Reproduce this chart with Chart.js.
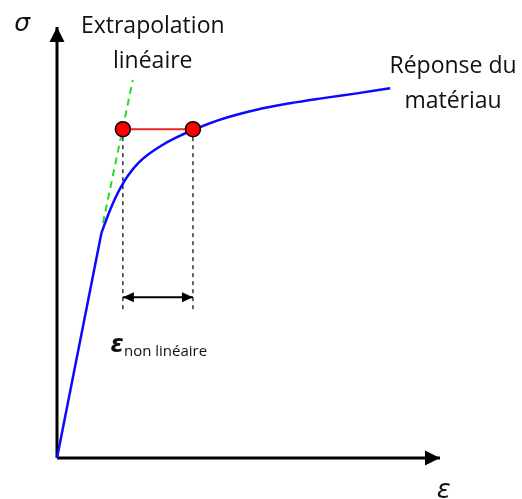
<!DOCTYPE html>
<html>
<head>
<meta charset="utf-8">
<script src="https://cdn.jsdelivr.net/npm/chart.js@4"></script>
<style>
    html, body { margin: 0; padding: 0; background: #ffffff; }
    canvas { display: block; }
</style>
</head>
<body>
<canvas id="stressChart" width="522" height="499"></canvas>
<script>
// Material response (strain, stress) - elastic part then hardening curve
const elasticX = [0, 1.16];
const elasticY = [0, 5.22];
const curveX = [1.16, 1.34, 1.51, 1.69, 1.86, 2.12, 2.38, 2.73, 3.08, 3.55, 4.33, 5.21, 6.08, 6.95, 7.83, 8.70];
const curveY = [5.22, 5.65, 6.01, 6.32, 6.56, 6.84, 7.04, 7.25, 7.42, 7.61, 7.87, 8.08, 8.23, 8.35, 8.46, 8.58];

// Linear extrapolation (green dashed)
const extrapX = [1.20, 1.98];
const extrapY = [5.45, 8.77];

// Red markers at the same stress level
const markerX = [1.72, 3.55];
const markerY = [7.63, 7.63];

// Dashed projection lines and the non-linear strain arrow
const projBottom = 3.36;
const arrowY = 3.73;

// Axes extents
const xMax = 10;
const yMax = 10;

// Text labels (data coordinates)
const labels = [
    { text: 'σ', x: -0.91, y: 9.91, font: 'italic 25px "DejaVu Sans"' },
    { text: 'Extrapolation', x: 2.50, y: 9.86, font: '23px "Open Sans"' },
    { text: 'linéaire', x: 2.50, y: 9.05, font: '23px "Open Sans"' },
    { text: 'Réponse du', x: 10.34, y: 8.93, font: '23px "Open Sans"' },
    { text: 'matériau', x: 10.34, y: 8.12, font: '23px "Open Sans"' },
    { text: 'ε', x: 10.10, y: -0.92, font: 'italic 26px "DejaVu Sans"' }
];

function toPoints(xs, ys) {
    return xs.map((x, i) => ({ x: x, y: ys[i] }));
}

// Draws filled arrowheads at the ends of datasets flagged with arrowEnds
const arrowPlugin = {
    id: 'arrowHeads',
    afterDatasetsDraw(chart) {
        const ctx = chart.ctx;
        chart.data.datasets.forEach((ds, i) => {
            if (!ds.arrowEnds) return;
            const meta = chart.getDatasetMeta(i);
            const pts = meta.data;
            const len = ds.arrowLen || 14;
            const half = ds.arrowHalf || 7;
            const ends = [];
            if (ds.arrowEnds.includes('end')) ends.push([pts[pts.length - 1], pts[pts.length - 2]]);
            if (ds.arrowEnds.includes('start')) ends.push([pts[0], pts[1]]);
            ends.forEach(([tip, from]) => {
                const ang = Math.atan2(tip.y - from.y, tip.x - from.x);
                ctx.save();
                ctx.translate(tip.x, tip.y);
                ctx.rotate(ang);
                ctx.beginPath();
                ctx.moveTo(0, 0);
                ctx.lineTo(-len, -half);
                ctx.lineTo(-len, half);
                ctx.closePath();
                ctx.fillStyle = ds.borderColor;
                ctx.fill();
                ctx.restore();
            });
        });
    }
};

// Writes the text annotations
const labelPlugin = {
    id: 'textLabels',
    afterDraw(chart) {
        const ctx = chart.ctx;
        const xs = chart.scales.x;
        const ys = chart.scales.y;
        ctx.save();
        ctx.fillStyle = '#111111';
        ctx.textAlign = 'center';
        ctx.textBaseline = 'alphabetic';
        labels.forEach(l => {
            ctx.font = l.font;
            ctx.fillText(l.text, xs.getPixelForValue(l.x), ys.getPixelForValue(l.y));
        });

        // epsilon with "non linéaire" subscript
        const px = xs.getPixelForValue(1.40);
        const py = ys.getPixelForValue(2.36);
        ctx.textAlign = 'left';
        ctx.font = 'italic bold 24px "DejaVu Sans"';
        ctx.fillText('ε', px, py - 4);
        const w = ctx.measureText('ε').width;
        ctx.font = '15px "Open Sans"';
        ctx.fillText('non linéaire', px + w, py);
        ctx.restore();
    }
};

function renderChart() {
    const ctx = document.getElementById('stressChart');

    new Chart(ctx, {
        type: 'scatter',
        data: {
            datasets: [
                {
                    // red markers
                    data: toPoints(markerX, markerY),
                    showLine: true,
                    borderColor: '#e8262a',
                    borderWidth: 2,
                    pointRadius: 7.5,
                    pointBackgroundColor: '#ff0000',
                    pointBorderColor: '#000000',
                    pointBorderWidth: 1.5,
                    order: 0,
                    clip: false
                },
                {
                    // non-linear strain double arrow
                    data: toPoints(markerX, [arrowY, arrowY]),
                    showLine: true,
                    borderColor: '#000000',
                    borderWidth: 2,
                    pointRadius: 0,
                    arrowEnds: ['start', 'end'],
                    arrowLen: 11,
                    arrowHalf: 5,
                    order: 1,
                    clip: false
                },
                {
                    // projection left
                    data: toPoints([markerX[0], markerX[0]], [markerY[0], projBottom]),
                    showLine: true,
                    borderColor: '#000000',
                    borderWidth: 1.2,
                    borderDash: [4, 4],
                    pointRadius: 0,
                    order: 5,
                    clip: false
                },
                {
                    // projection right
                    data: toPoints([markerX[1], markerX[1]], [markerY[1], projBottom]),
                    showLine: true,
                    borderColor: '#000000',
                    borderWidth: 1.2,
                    borderDash: [4, 4],
                    pointRadius: 0,
                    order: 5,
                    clip: false
                },
                {
                    // material response - elastic part
                    data: toPoints(elasticX, elasticY),
                    showLine: true,
                    borderColor: '#0a0aff',
                    borderWidth: 2.5,
                    pointRadius: 0,
                    order: 3,
                    clip: false
                },
                {
                    // material response - hardening
                    data: toPoints(curveX, curveY),
                    showLine: true,
                    borderColor: '#0a0aff',
                    borderWidth: 2.5,
                    tension: 0.4,
                    pointRadius: 0,
                    order: 3,
                    clip: false
                },
                {
                    // linear extrapolation
                    data: toPoints(extrapX, extrapY),
                    showLine: true,
                    borderColor: '#22dd22',
                    borderWidth: 2,
                    borderDash: [7, 5],
                    pointRadius: 0,
                    order: 4,
                    clip: false
                },
                {
                    // x axis
                    data: toPoints([0, xMax], [0, 0]),
                    showLine: true,
                    borderColor: '#000000',
                    borderWidth: 3,
                    pointRadius: 0,
                    arrowEnds: ['end'],
                    arrowLen: 15,
                    arrowHalf: 7.5,
                    order: 6,
                    clip: false
                },
                {
                    // y axis
                    data: toPoints([0, 0], [0, yMax]),
                    showLine: true,
                    borderColor: '#000000',
                    borderWidth: 3,
                    pointRadius: 0,
                    arrowEnds: ['end'],
                    arrowLen: 15,
                    arrowHalf: 7.5,
                    order: 6,
                    clip: false
                }
            ]
        },
        options: {
            responsive: false,
            animation: false,
            devicePixelRatio: 1,
            layout: { padding: { left: 57, right: 82, top: 27, bottom: 41 } },
            plugins: {
                legend: { display: false },
                tooltip: { enabled: false }
            },
            scales: {
                x: { type: 'linear', min: 0, max: xMax, display: false },
                y: { type: 'linear', min: 0, max: yMax, display: false }
            }
        },
        plugins: [arrowPlugin, labelPlugin]
    });
}

renderChart();
</script>
</body>
</html>
